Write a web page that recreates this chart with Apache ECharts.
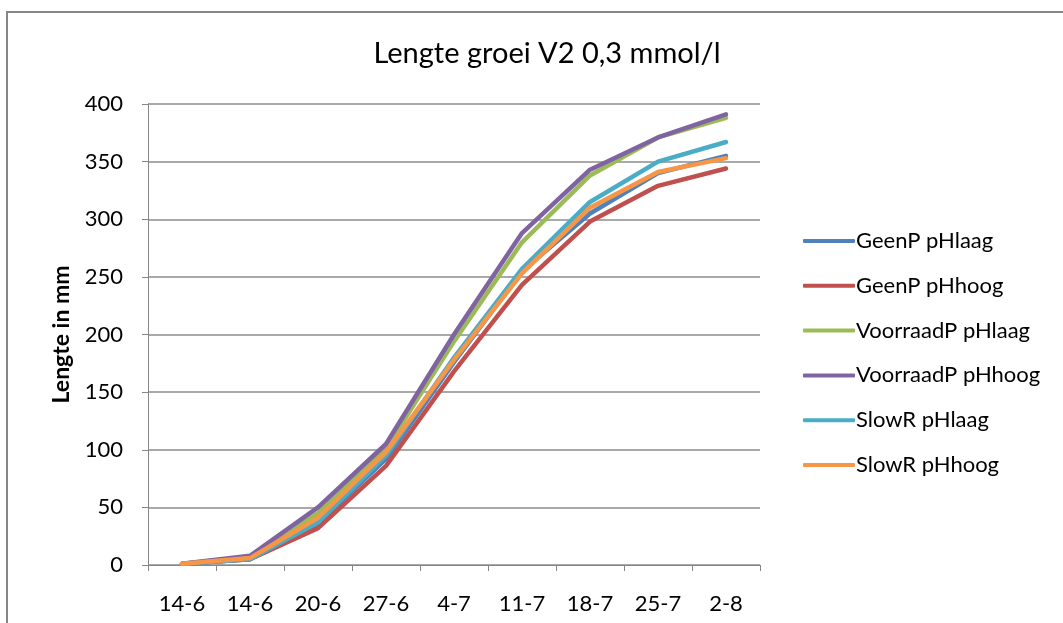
<!DOCTYPE html>
<html>
<head>
<meta charset="utf-8">
<script src="https://cdn.jsdelivr.net/npm/echarts@6/dist/echarts.min.js"></script>
<style>
  html, body { margin: 0; padding: 0; background: #ffffff; }
  #chart { width: 1063px; height: 623px; }
</style>
</head>
<body>
<div id="chart"></div>
<script>
// Meetdata: lengte (mm) per meetdatum
const categories = ['14-6', '14-6', '20-6', '27-6', '4-7', '11-7', '18-7', '25-7', '2-8'];
const seriesNames = ['GeenP pHlaag', 'GeenP pHhoog', 'VoorraadP pHlaag', 'VoorraadP pHhoog', 'SlowR pHlaag', 'SlowR pHhoog'];
const geenPLaag      = [1, 5, 36, 92, 176, 255, 305, 340, 355];
const geenPHoog      = [1, 5, 32, 86, 168, 243, 298, 329, 344];
const voorraadPLaag  = [1, 7, 45, 101, 194, 280, 338, 371, 388];
const voorraadPHoog  = [1, 8, 50, 105, 200, 288, 343, 371, 391];
const slowRLaag      = [1, 5, 37, 95, 180, 257, 315, 350, 367];
const slowRHoog      = [1, 6, 41, 98, 178, 253, 310, 341, 353];
const yTicks = [0, 50, 100, 150, 200, 250, 300, 350, 400];

const colors = ['#4F81BD', '#C0504D', '#9BBB59', '#8064A2', '#4BACC6', '#F79646'];
const values = [geenPLaag, geenPHoog, voorraadPLaag, voorraadPHoog, slowRLaag, slowRHoog];
const font = 'Lato, "Open Sans", sans-serif';

const chart = echarts.init(document.getElementById('chart'));
chart.setOption({
  animation: false,
  color: colors,
  graphic: [{
    type: 'rect',
    shape: { x: 7, y: 12, width: 1100, height: 700 },
    style: { fill: 'none', stroke: '#868686', lineWidth: 2 },
    silent: true
  }],
  title: {
    text: 'Lengte groei V2 0,3 mmol/l',
    left: 542,
    textAlign: 'center',
    top: 34,
    textStyle: { fontFamily: font, fontSize: 29, fontWeight: 'normal', color: '#000' }
  },
  legend: {
    orient: 'vertical',
    left: 798,
    top: 224,
    itemGap: 20.8,
    itemWidth: 52,
    itemHeight: 4,
    icon: 'roundRect',
    data: seriesNames,
    textStyle: { fontFamily: font, fontSize: 22, lineHeight: 24, color: '#000', padding: [0, 0, 0, -4] }
  },
  grid: { left: 148, right: 303, top: 104, bottom: 58 },
  xAxis: {
    type: 'category',
    data: categories,
    boundaryGap: true,
    axisLine: { lineStyle: { color: '#868686', width: 1 } },
    axisTick: { show: true, length: 6, lineStyle: { color: '#868686' } },
    axisLabel: { fontFamily: font, fontSize: 22, color: '#000', margin: 28 }
  },
  yAxis: {
    type: 'value',
    min: yTicks[0],
    max: yTicks[yTicks.length - 1],
    interval: 50,
    name: 'Lengte in mm',
    nameLocation: 'middle',
    nameGap: 75,
    nameRotate: 90,
    nameTextStyle: { fontFamily: font, fontSize: 23, fontWeight: 'bold', color: '#000' },
    axisLine: { show: true, lineStyle: { color: '#868686', width: 1 } },
    axisTick: { show: true, length: 6, lineStyle: { color: '#868686' } },
    splitLine: { lineStyle: { color: '#8C8C8C', width: 1.5 } },
    axisLabel: { fontFamily: font, fontSize: 22, color: '#000', margin: 25 }
  },
  series: seriesNames.map((name, i) => ({
    name: name,
    type: 'line',
    data: values[i],
    showSymbol: false,
    symbol: 'none',
    lineStyle: { width: 4.5, color: colors[i], cap: 'round', join: 'round' }
  }))
});
</script>
</body>
</html>
